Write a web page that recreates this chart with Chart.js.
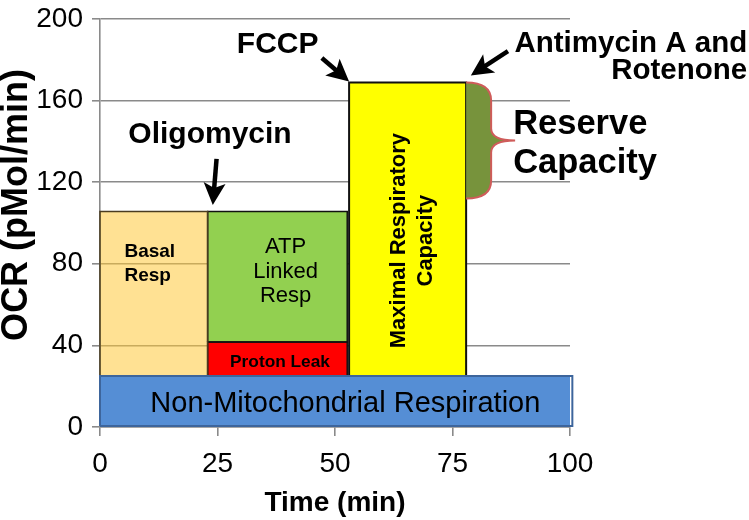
<!DOCTYPE html>
<html>
<head>
<meta charset="utf-8">
<title>Mito stress test OCR profile</title>
<script src="https://cdn.jsdelivr.net/npm/chart.js@4.4.1/dist/chart.umd.min.js"></script>
<style>
  html, body { margin: 0; padding: 0; background: #fff; }
  #wrap { width: 749px; height: 520px; }
</style>
</head>
<body>
<div id="wrap"><canvas id="ocrChart"></canvas></div>
<script>
// blocks of the stress test profile (time in min, OCR in pMol/min)
const phases = ["Non-Mitochondrial Respiration", "Basal Resp", "ATP Linked Resp", "Proton Leak", "Maximal Respiratory Capacity"];
const startTime = [0, 0, 22.9, 22.9, 53];
const endTime = [100.5, 22.9, 52.6, 52.6, 77.9];
const ocrLow = [0.5, 25, 41.6, 25, 25];
const ocrHigh = [25, 105.6, 105.6, 41.6, 168.8];

// reserve capacity bracket next to the maximal block
const reserveLow = 112;
const reserveHigh = 168.8;

const timeTicks = [0, 25, 50, 75, 100];
const ocrTicks = [0, 40, 80, 120, 160, 200];

// looks
const FONT = "'Liberation Sans', Arial, sans-serif";
const fills = ["#558ED5", "rgba(255, 200, 55, 0.54)", "#92D050", "#FF0000", "#FFFF00"];
const edges = ["#3D659C", "#4a3c20", "#111111", "#111111", "#111111"];
const edgeWidths = [2, 1.5, 1.5, 1.5, 2];
const GRID = "#8a8a8a";

// annotation text, placed in data units
const notes = [
	{ lines: ["Basal", "Resp"], t: 5.2, v: 83.5, font: "bold 19px", align: "left", gap: 24.3 },
	{ lines: ["ATP", "Linked", "Resp"], t: 39.5, v: 85.1, font: "22px", align: "center", gap: 24.5 },
	{ lines: ["Proton Leak"], t: 38.3, v: 29.6, font: "bold 17.3px", align: "center" },
	{ lines: ["Maximal Respiratory", "Capacity"], t: 64.9, v: 91.3, font: "bold 22px", align: "center", gap: 27, rotate: true },
	{ lines: ["Non-Mitochondrial Respiration"], t: 52.2, v: 7.2, font: "29px", align: "center" },
	{ lines: ["Oligomycin"], t: 23.4, v: 139, font: "bold 30px", align: "center" },
	{ lines: ["FCCP"], t: 37.8, v: 183.2, font: "bold 30px", align: "center" },
	{ lines: ["Antimycin A and", "Rotenone"], t: 137.7, v: 183.7, font: "bold 29.5px", align: "right", gap: 26.6 },
	{ lines: ["Reserve", "Capacity"], t: 87.9, v: 143.4, font: "bold 34.5px", align: "left", gap: 39 },
];

const arrows = [
	{ from: [24.8, 131.4], to: [24.0, 108.8] },
	{ from: [47.2, 180.8], to: [53.0, 169.3] },
	{ from: [86.8, 184.2], to: [78.9, 172.2] },
];

function drawArrow(ctx, x1, y1, x2, y2) {
	const ang = Math.atan2(y2 - y1, x2 - x1);
	const len = Math.hypot(x2 - x1, y2 - y1);
	const head = 22, half = 11, notch = 5;
	ctx.save();
	ctx.translate(x2, y2);
	ctx.rotate(ang);
	ctx.lineWidth = 4.5;
	ctx.beginPath();
	ctx.moveTo(-len, 0);
	ctx.lineTo(-head + notch + 1, 0);
	ctx.stroke();
	ctx.beginPath();
	ctx.moveTo(0, 0);
	ctx.lineTo(-head, -half);
	ctx.lineTo(-head + notch, 0);
	ctx.lineTo(-head, half);
	ctx.closePath();
	ctx.fill();
	ctx.restore();
}

const notePlugin = {
	id: "notes",
	afterDatasetsDraw(chart) {
		const { ctx, scales, chartArea } = chart;
		const px = (v) => scales.x.getPixelForValue(v);
		const py = (v) => scales.y.getPixelForValue(v);
		ctx.save();

		// curly brace for the reserve capacity
		const bx = px(endTime[4]);
		const top = py(reserveHigh);
		const bot = py(reserveLow);
		const mid = (top + bot) / 2;
		const arm = 25, tip = 49, r = 18;
		const brace = () => {
			ctx.beginPath();
			ctx.moveTo(bx, top);
			ctx.quadraticCurveTo(bx + arm, top, bx + arm, top + r);
			ctx.lineTo(bx + arm, mid - 12);
			ctx.quadraticCurveTo(bx + arm, mid, bx + tip, mid);
			ctx.quadraticCurveTo(bx + arm, mid, bx + arm, mid + 12);
			ctx.lineTo(bx + arm, bot - r);
			ctx.quadraticCurveTo(bx + arm, bot, bx, bot);
		};
		brace();
		ctx.closePath();
		ctx.fillStyle = "#77933C";
		ctx.fill();
		brace();
		ctx.strokeStyle = "#CF5C5A";
		ctx.lineWidth = 2;
		ctx.stroke();

		// arrows
		ctx.fillStyle = "#000";
		ctx.strokeStyle = "#000";
		arrows.forEach((a) => {
			drawArrow(ctx, px(a.from[0]), py(a.from[1]), px(a.to[0]), py(a.to[1]));
		});

		// text
		ctx.textBaseline = "alphabetic";
		notes.forEach((n) => {
			ctx.save();
			ctx.font = n.font + " " + FONT;
			ctx.textAlign = n.align;
			ctx.translate(px(n.t), py(n.v));
			if (n.rotate) {
				ctx.rotate(-Math.PI / 2);
			}
			n.lines.forEach((line, i) => {
				ctx.fillText(line, 0, i * (n.gap || 0));
			});
			ctx.restore();
		});

		// y axis title, sits a little above the middle of the axis
		ctx.save();
		ctx.font = "bold 36px " + FONT;
		ctx.textAlign = "center";
		ctx.textBaseline = "middle";
		ctx.translate(17, (chartArea.top + chartArea.bottom) / 2 - 18);
		ctx.rotate(-Math.PI / 2);
		ctx.fillText("OCR (pMol/min)", 0, 0);
		ctx.restore();

		ctx.restore();
	},
};

// each block = a filled top edge down to its low value + a closed outline
const datasets = [];
phases.forEach((name, i) => {
	const onTop = i === 0;
	datasets.push({
		label: name,
		data: [
			{ x: startTime[i], y: ocrHigh[i] },
			{ x: endTime[i], y: ocrHigh[i] },
		],
		fill: { value: ocrLow[i] },
		backgroundColor: fills[i],
		borderWidth: 0,
		pointRadius: 0,
		pointHoverRadius: 0,
		clip: false,
		order: onTop ? 2 : 4,
	});
	datasets.push({
		label: name + " outline",
		data: [
			{ x: startTime[i], y: ocrLow[i] },
			{ x: startTime[i], y: ocrHigh[i] },
			{ x: endTime[i], y: ocrHigh[i] },
			{ x: endTime[i], y: ocrLow[i] },
			{ x: startTime[i], y: ocrLow[i] },
		],
		fill: false,
		borderColor: edges[i],
		borderWidth: edgeWidths[i],
		borderJoinStyle: "miter",
		pointRadius: 0,
		pointHoverRadius: 0,
		tension: 0,
		clip: false,
		order: onTop ? 1 : 3,
	});
});

Chart.defaults.font.family = FONT;
Chart.defaults.color = "#000";

new Chart(document.getElementById("ocrChart"), {
	type: "line",
	data: { datasets },
	options: {
		responsive: true,
		maintainAspectRatio: false,
		animation: false,
		layout: { padding: { top: 10, right: 179, bottom: 0, left: 0 } },
		plugins: {
			legend: { display: false },
			tooltip: { enabled: false },
		},
		scales: {
			x: {
				type: "linear",
				min: 0,
				max: 100,
				afterBuildTicks: (s) => {
					s.ticks = timeTicks.map((v) => ({ value: v }));
				},
				afterFit: (s) => {
					s.height = 93;
				},
				ticks: { font: { size: 28 }, padding: 11, maxRotation: 0 },
				grid: { drawOnChartArea: false, drawTicks: true, tickLength: 9, color: GRID, lineWidth: 1.6 },
				border: { display: true, color: GRID, width: 1.6 },
				title: {
					display: true,
					text: "Time (min)",
					font: { size: 28, weight: "bold" },
					padding: { top: 0, bottom: 0 },
				},
			},
			y: {
				min: 0,
				max: 200,
				afterBuildTicks: (s) => {
					s.ticks = ocrTicks.map((v) => ({ value: v }));
				},
				afterFit: (s) => {
					s.width = 100;
				},
				ticks: { font: { size: 28, lineHeight: 0.7 }, padding: 9 },
				grid: { color: GRID, lineWidth: 1.6, tickLength: 8 },
				border: { display: true, color: GRID, width: 1.6 },
				title: { display: false },
			},
		},
	},
	plugins: [notePlugin],
});
</script>
</body>
</html>
